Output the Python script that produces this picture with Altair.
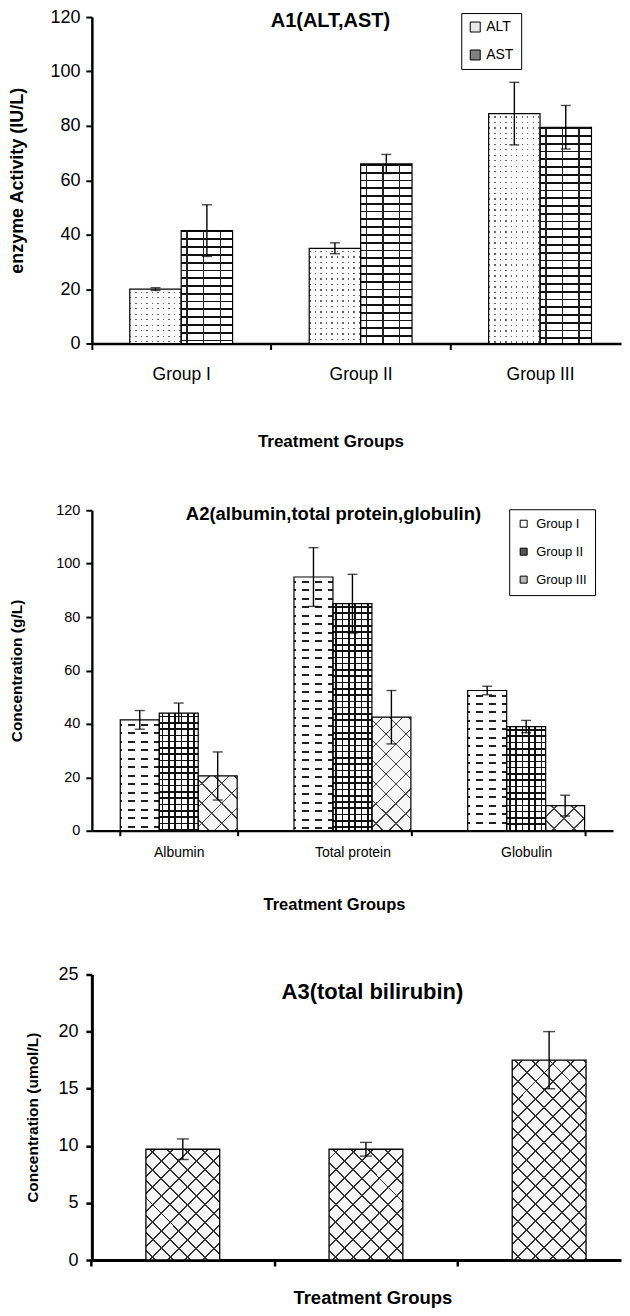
import math
import altair as alt
import pandas as pd

FONT = "Liberation Sans"
CLEAR = "rgba(255,255,255,0)"

# ---------------- data ----------------
A1_groups = ["Group I", "Group II", "Group III"]
A1_series = ["ALT", "AST"]
A1_alt_mean = [20.0, 35.0, 84.5]
A1_alt_err = [0.5, 2.0, 11.5]
A1_ast_mean = [41.5, 66.0, 79.5]
A1_ast_err = [9.5, 3.5, 8.0]
A1_yticks = [0, 20, 40, 60, 80, 100, 120]

A2_categories = ["Albumin", "Total protein", "Globulin"]
A2_series = ["Group I", "Group II", "Group III"]
A2_g1_mean = [41.5, 95.0, 52.5]
A2_g1_err = [3.5, 11.0, 1.6]
A2_g2_mean = [44.0, 85.0, 39.0]
A2_g2_err = [3.8, 11.0, 2.3]
A2_g3_mean = [20.5, 42.5, 9.4]
A2_g3_err = [9.0, 10.0, 3.9]
A2_yticks = [0, 20, 40, 60, 80, 100, 120]

A3_groups = ["Group I", "Group II", "Group III"]
A3_mean = [9.7, 9.7, 17.5]
A3_err = [0.9, 0.6, 2.5]
A3_yticks = [0, 5, 10, 15, 20, 25]


# ---------------- pattern helpers (linear-gradient stripes) ----------------
def _stops(length, start, period, width, color, bg):
    stops = [{"offset": 0, "color": bg}]
    p = start
    while p < length:
        a = max(0.0, p) / length
        b = min(length, p + width) / length
        if b > a:
            a = round(a, 5)
            b = round(b, 5)
            stops += [
                {"offset": a, "color": bg},
                {"offset": a, "color": color},
                {"offset": b, "color": color},
                {"offset": b, "color": bg},
            ]
        p += period
    stops.append({"offset": 1, "color": bg})
    return stops


def hlines(h, period, width, color, bg, start=0.0):
    return {"gradient": "linear", "x1": 0, "y1": 0, "x2": 0, "y2": 1,
            "stops": _stops(h, start, period, width, color, bg)}


def vlines(w, period, width, color, bg, start=0.0):
    return {"gradient": "linear", "x1": 0, "y1": 0, "x2": 1, "y2": 0,
            "stops": _stops(w, start, period, width, color, bg)}


def diag(w, h, period, lw, color, bg, flip=False, start=0.0):
    length = w + h
    k = length / (w * w + h * h)
    if flip:
        x1, y1, x2, y2 = 0, 1, w * k, 1 - h * k
    else:
        x1, y1, x2, y2 = 0, 0, w * k, h * k
    return {"gradient": "linear", "x1": x1, "y1": y1, "x2": round(x2, 5), "y2": round(y2, 5),
            "stops": _stops(length, start, period, lw * math.sqrt(2), color, bg)}


def pat_dots(w, h):
    # dark horizontal lines, then white columns leaving narrow gaps -> dots
    return [hlines(h, 5.5, 1.4, "#666666", "#ffffff", start=2.5),
            vlines(w, 5.5, 4.1, "#ffffff", CLEAR, start=1.4)]


def pat_brick(w, h):
    return [hlines(h, 7.8, 1.8, "#111111", "#ffffff", start=0.0),
            vlines(w, 16.7, 1.5, "#222222", CLEAR, start=5.0)]


def pat_dash(w, h):
    return [hlines(h, 8.5, 2.0, "#222222", "#ffffff", start=4.0),
            vlines(w, 13.0, 6.0, "#ffffff", CLEAR, start=2.0)]


def pat_grid(w, h):
    return [hlines(h, 6.3, 1.6, "#111111", "#ffffff", start=2.5),
            vlines(w, 6.3, 1.6, "#111111", CLEAR, start=2.5)]


def make_cross(period, lw, color):
    def f(w, h):
        return [diag(w, h, period, lw, color, "#f6f6f6", flip=False, start=period / 2),
                diag(w, h, period, lw, color, CLEAR, flip=True, start=period / 2)]
    return f


def axis_common(**kw):
    base = dict(labelFont=FONT, titleFont=FONT, domainColor="black", tickColor="black",
                labelColor="black", titleColor="black", grid=False, titleFontWeight="bold")
    base.update(kw)
    return alt.Axis(**base)


def bar_panel(df, cats, sers, W, H, ymax, xscale, xaxis, yaxis, xtitle, ytitle,
              colors, legend, patterns, bar_w, cap, title_text, title_size, title_xy,
              stroke_w=1.2):
    ppu = H / ymax
    X = alt.X("cat:N", sort=cats, scale=xscale, axis=xaxis, title=xtitle)
    XO = alt.XOffset("ser:N", sort=sers,
                     scale=alt.Scale(domain=sers, paddingInner=0, paddingOuter=0))
    ysc = alt.Scale(domain=[0, ymax], nice=False, zero=True)

    def Y(f):
        return alt.Y(f, scale=ysc, axis=yaxis, title=ytitle)

    base = alt.Chart(df)
    layers = []
    enc = dict(x=X, xOffset=XO, y=Y("value:Q"))
    if legend is not False:
        color = alt.Color("ser:N", sort=sers, scale=alt.Scale(domain=sers, range=colors),
                          legend=legend)
        layers.append(base.mark_bar(strokeWidth=0).encode(color=color, **enc))
    else:
        layers.append(base.mark_bar(strokeWidth=0, color=colors[0]).encode(**enc))
    for row in df.itertuples():
        for grad in patterns[row.ser](bar_w, row.value * ppu):
            layers.append(
                base.transform_filter(f"datum.cat == '{row.cat}' && datum.ser == '{row.ser}'")
                .mark_bar(fill=grad, strokeWidth=0)
                .encode(**enc)
            )
    layers.append(base.mark_bar(fillOpacity=0, stroke="black", strokeWidth=stroke_w).encode(**enc))
    eb = base.transform_calculate(lo="datum.value - datum.err", hi="datum.value + datum.err")
    layers.append(eb.mark_rule(color="black", strokeWidth=1.4)
                  .encode(x=X, xOffset=XO, y=Y("lo:Q"), y2="hi:Q"))
    layers.append(eb.mark_tick(color="black", thickness=1.4, size=cap)
                  .encode(x=X, xOffset=XO, y=Y("hi:Q")))
    layers.append(eb.mark_tick(color="black", thickness=1.4, size=cap)
                  .encode(x=X, xOffset=XO, y=Y("lo:Q")))
    layers.append(
        alt.Chart(pd.DataFrame({"t": [title_text]}))
        .mark_text(font=FONT, fontSize=title_size, fontWeight="bold", align="center",
                   baseline="middle", color="black")
        .encode(text="t:N", x=alt.value(title_xy[0]), y=alt.value(title_xy[1]))
    )
    return alt.layer(*layers).properties(width=W, height=H)


# ---------------- panel A1 ----------------
W1, H1 = 530, 327
a1 = pd.DataFrame({
    "cat": A1_groups * 2,
    "ser": ["ALT"] * 3 + ["AST"] * 3,
    "value": A1_alt_mean + A1_ast_mean,
    "err": A1_alt_err + A1_ast_err,
})
p1 = bar_panel(
    a1, A1_groups, A1_series, W1, H1, 120,
    xscale=alt.Scale(paddingInner=0.427, paddingOuter=0.188, align=0.562),
    xaxis=axis_common(labelAngle=0, labelFontSize=17.5, labelPadding=16, tickSize=6,
                      tickWidth=2, domainWidth=2.5, tickOffset=-89.85, labelOffset=89.85,
                      titleFontSize=17, titleX=239, titleY=98, titleAlign="center",
                      titleBaseline="middle"),
    yaxis=axis_common(values=A1_yticks, labelFontSize=18, labelPadding=6, tickSize=6,
                      tickWidth=2, domainWidth=2.5, titleFontSize=18, titleX=-74.5,
                      titleY=H1 / 2, titleAngle=270, titleAlign="center",
                      titleBaseline="middle"),
    xtitle="Treatment Groups", ytitle="enzyme Activity (IU/L)",
    colors=["#e8e8e8", "#808080"],
    legend=alt.Legend(title=None, orient="none", legendX=370, legendY=-4,
                      direction="vertical", labelFont=FONT, labelFontSize=14,
                      labelColor="black", symbolType="square", symbolSize=100,
                      symbolStrokeColor="black", symbolStrokeWidth=1,
                      strokeColor="black", fillColor="white", padding=7,
                      rowPadding=14, labelOffset=4),
    patterns={"ALT": pat_dots, "AST": pat_brick},
    bar_w=51.5, cap=10, title_text="A1(ALT,AST)", title_size=20, title_xy=(239, 3.5),
)

# ---------------- panel A2 ----------------
W2, H2 = 522, 321
a2 = pd.DataFrame({
    "cat": A2_categories * 3,
    "ser": ["Group I"] * 3 + ["Group II"] * 3 + ["Group III"] * 3,
    "value": A2_g1_mean + A2_g2_mean + A2_g3_mean,
    "err": A2_g1_err + A2_g2_err + A2_g3_err,
})
p2 = bar_panel(
    a2, A2_categories, A2_series, W2, H2, 120,
    xscale=alt.Scale(paddingInner=0.327, paddingOuter=0.1635),
    xaxis=axis_common(labelAngle=0, labelFontSize=14, labelPadding=10, tickSize=5,
                      tickWidth=2, domainWidth=2.3, tickBand="extent", titleFontSize=16.5,
                      titleX=242.5, titleY=74, titleAlign="center", titleBaseline="middle"),
    yaxis=axis_common(values=A2_yticks, labelFontSize=14.5, labelPadding=6, tickSize=6,
                      tickWidth=2, domainWidth=2.3, titleFontSize=15.5, titleX=-75,
                      titleY=H2 / 2, titleAngle=270, titleAlign="center",
                      titleBaseline="middle"),
    xtitle="Treatment Groups", ytitle="Concentration (g/L)",
    colors=["#ffffff", "#555555", "#bbbbbb"],
    legend=alt.Legend(title=None, orient="none", legendX=418, legendY=-1,
                      direction="vertical", labelFont=FONT, labelFontSize=13,
                      labelColor="black", symbolType="square", symbolSize=49,
                      symbolStrokeColor="black", symbolStrokeWidth=1,
                      strokeColor="black", fillColor="white", padding=8,
                      rowPadding=14, labelOffset=6),
    patterns={"Group I": pat_dash, "Group II": pat_grid,
              "Group III": make_cross(20, 1.3, "#444444")},
    bar_w=39.0, cap=10, title_text="A2(albumin,total protein,globulin)", title_size=18.5,
    title_xy=(242, 4),
)

# ---------------- panel A3 ----------------
W3, H3 = 530, 286
a3 = pd.DataFrame({
    "cat": A3_groups,
    "ser": ["A3"] * 3,
    "value": A3_mean,
    "err": A3_err,
})
p3 = bar_panel(
    a3, A3_groups, ["A3"], W3, H3, 25,
    xscale=alt.Scale(paddingInner=0.597, paddingOuter=0.243, align=0.607),
    xaxis=axis_common(labels=False, tickSize=6, tickWidth=2.5, domainWidth=3,
                      tickOffset=-91.75, titleFontSize=18.5, titleX=281, titleY=38,
                      titleAlign="center", titleBaseline="middle"),
    yaxis=axis_common(values=A3_yticks, labelFontSize=18, labelPadding=8, tickSize=6,
                      tickWidth=2.5, domainWidth=3, titleFontSize=15.5, titleX=-59,
                      titleY=H3 / 2, titleAngle=270, titleAlign="center",
                      titleBaseline="middle"),
    xtitle="Treatment Groups", ytitle="Concentration (umol/L)",
    colors=["#f6f6f6"], legend=False,
    patterns={"A3": make_cross(17.5, 1.4, "#333333")},
    bar_w=74.0, cap=12, title_text="A3(total bilirubin)", title_size=22, title_xy=(281, 17.7),
    stroke_w=1.3,
)

chart = (
    alt.vconcat(p1, p2, p3, spacing=51)
    .resolve_scale(color="independent", xOffset="independent")
    .properties(padding={"left": 0, "top": -2, "right": 0, "bottom": 0}, background="white")
    .configure_view(stroke="transparent")
)

chart.save("out.html", embed_options={"renderer": "svg", "actions": False})
